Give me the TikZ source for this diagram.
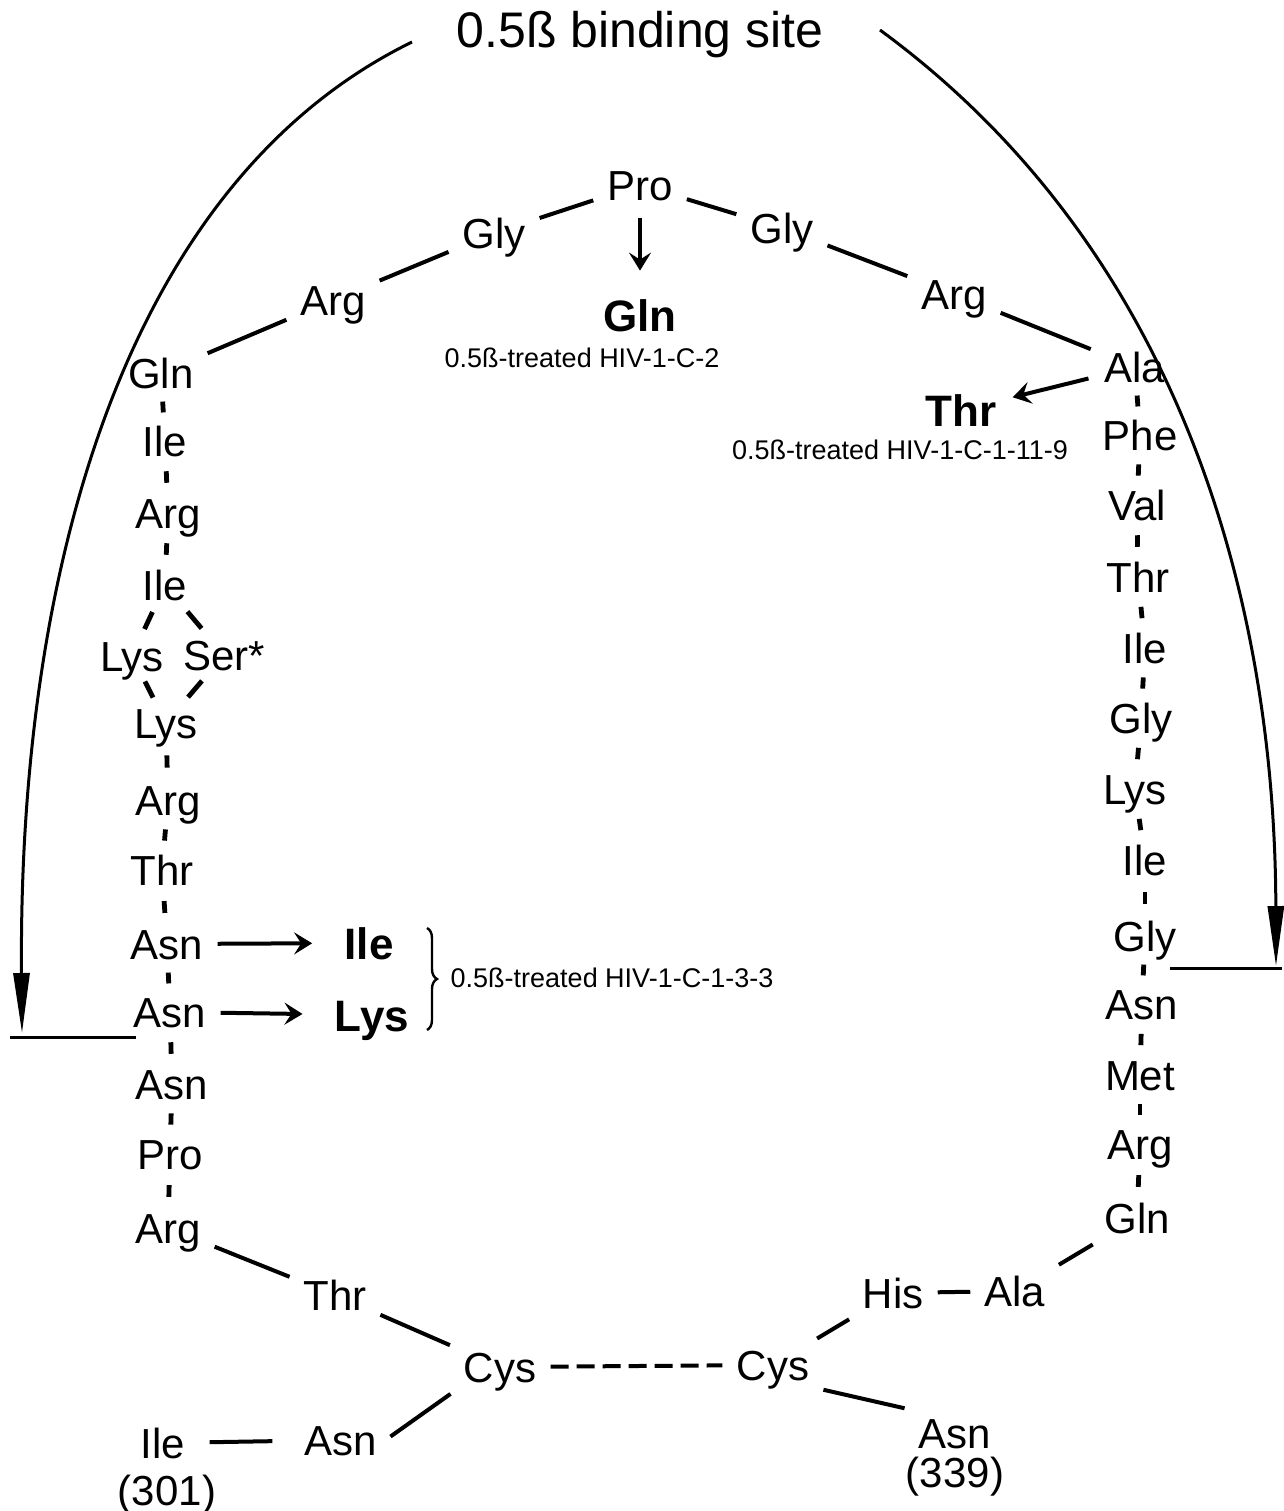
\documentclass[tikz,border=0pt]{standalone}
\usepackage{fontspec}
\setmainfont{Liberation Sans}
\usetikzlibrary{arrows.meta,calc,decorations.pathreplacing}

\begin{document}
\begin{tikzpicture}[x=0.5pt, y=-0.5pt,
  res/.style={font=\fontsize{21}{24}\selectfont, inner sep=4pt, text height=15pt, text depth=0pt},
  mut/.style={font=\fontsize{22}{26}\selectfont\bfseries, inner sep=4pt, text height=16pt, text depth=0pt},
  note/.style={font=\fontsize{13.5}{16}\selectfont, inner sep=1pt},
  bond/.style={line width=2pt, shorten <=3pt, shorten >=3pt},
  tick/.style={line width=2.4pt},
  swap/.style={line width=2pt, -{Stealth[length=9pt,width=11pt,inset=3.5pt]}},
  site/.style={line width=1.5pt, -{Triangle[length=30pt,width=8pt]}}]
  \useasboundingbox (0,0) rectangle (1284,1511);
  \node[font=\fontsize{25}{29}\selectfont] (title) at (640,35) {0.5ß binding site};
  % top loop
  \node[res] (pro) at (640,185) {Pro};
  \node[res] (lgly) at (494,233) {Gly};
  \node[res] (rgly) at (782,228) {Gly};
  \node[res] (larg) at (333,300) {Arg};
  \node[res] (rarg) at (954,294) {Arg};
  \node[mut] (mgln) at (640,315) {Gln};
  \node[note] (notea) at (582,358) {0.5ß-treated HIV-1-C-2};
  \node[mut] (mthr) at (961,410) {Thr};
  \node[note] (noteb) at (900,450) {0.5ß-treated HIV-1-C-1-11-9};
  % left strand
  \node[res] (l1) at (161,373) {Gln};
  \node[res] (l2) at (165,441) {Ile};
  \node[res] (l3) at (168,513) {Arg};
  \node[res] (l4) at (165,585) {Ile};
  \node[res] (llys) at (132,656) {Lys};
  \node[res] (lser) at (224,655) {Ser*};
  \node[res] (l5) at (166,723) {Lys};
  \node[res] (l6) at (168,800) {Arg};
  \node[res] (l7) at (162,870) {Thr};
  \node[res] (l8) at (167,944) {Asn};
  \node[res] (l9) at (170,1012) {Asn};
  \node[res] (l10) at (172,1084) {Asn};
  \node[res] (l11) at (170,1154) {Pro};
  \node[res] (l12) at (168,1228) {Arg};
  \node[mut] (mile) at (369,943) {Ile};
  \node[mut] (mlys) at (372,1015) {Lys};
  \node[note] (notec) at (612,978) {0.5ß-treated HIV-1-C-1-3-3};
  % right strand
  \node[res] (r1) at (1135,367) {Ala};
  \node[res] (r2) at (1140,435) {Phe};
  \node[res] (r3) at (1137,505) {Val};
  \node[res] (r4) at (1138,577) {Thr};
  \node[res] (r5) at (1145,648) {Ile};
  \node[res] (r6) at (1141,718) {Gly};
  \node[res] (r7) at (1135,789) {Lys};
  \node[res] (r8) at (1145,860) {Ile};
  \node[res] (r9) at (1145,936) {Gly};
  \node[res] (r10) at (1142,1004) {Asn};
  \node[res] (r11) at (1140,1075) {Met};
  \node[res] (r12) at (1140,1144) {Arg};
  \node[res] (r13) at (1137,1218) {Gln};
  % bottom
  \node[res] (bthr) at (335,1295) {Thr};
  \node[res] (lcys) at (500,1367) {Cys};
  \node[res] (rcys) at (773,1365) {Cys};
  \node[res] (bhis) at (893,1293) {His};
  \node[res] (bala) at (1015,1291) {Ala};
  \node[res] (lasn) at (341,1440) {Asn};
  \node[res] (bile) at (163,1443) {Ile};
  \node[res] (n301) at (167,1490) {(301)};
  \node[res] (rasn) at (955,1433) {Asn};
  \node[res] (n339) at (955,1472) {(339)};
  \coordinate (la) at (412,42);
  \coordinate (lb) at (22,1033);
  \coordinate (ra) at (880,30);
  \coordinate (rb) at (1276,966);
  \coordinate (lh) at (10,1037);
  \coordinate (lk) at (136,1037);
  \coordinate (rh) at (1170,968);
  \coordinate (rk) at (1282,968);
  \coordinate (bt) at (427,928);
  \coordinate (bb) at (427,1030);

  \draw[bond] (l1) -- (larg);
  \draw[bond] (larg) -- (lgly);
  \draw[bond] (lgly) -- (pro);
  \draw[bond] (pro) -- (rgly);
  \draw[bond] (rgly) -- (rarg);
  \draw[bond] (rarg) -- (r1);
  \draw[bond] (l12) -- (bthr);
  \draw[bond] (bthr) -- (lcys);
  \draw[bond, dash pattern=on 9pt off 4pt] (lcys) -- (rcys);
  \draw[bond] (rcys) -- (bhis);
  \draw[bond] (bhis) -- (bala);
  \draw[bond] (bala) -- (r13);
  \draw[bond] (rcys.south east) -- (rasn.north west);
  \draw[bond] (lasn.east) -- (lcys.south west);
  \draw[bond, shorten <=8pt, shorten >=12pt] (bile) -- (lasn);
  \foreach \a/\b in {l1/l2, l2/l3, l3/l4, l5/l6, l6/l7, l7/l8, l8/l9, l9/l10, l10/l11, l11/l12,
    r1/r2, r2/r3, r3/r4, r4/r5, r5/r6, r6/r7, r7/r8, r8/r9, r9/r10, r10/r11, r11/r12, r12/r13}
    \draw[tick] ($(\a)!.42!(\b)$) -- ($(\a)!.58!(\b)$);
  \foreach \a/\b in {l4/llys, l4/lser, llys/l5, lser/l5}
    \draw[tick] ($(\a)!.38!(\b)$) -- ($(\a)!.62!(\b)$);
  \draw[swap, shorten <=5pt, shorten >=10pt] (pro) -- (mgln);
  \draw[swap, shorten <=4pt, shorten >=4pt] (r1) -- (mthr);
  \draw[swap, shorten <=3pt, shorten >=12pt] (l8) -- (mile);
  \draw[swap, shorten <=3pt, shorten >=12pt] (l9) -- (mlys);
  \draw[line width=1.2pt, decorate, decoration={brace, amplitude=5pt}] (bt) -- (bb);
  \draw[site] (la) .. controls (130,180) and (18,560) .. (lb);
  \draw[site] (ra) .. controls (1180,250) and (1275,600) .. (rb);
  \draw[line width=1.5pt] (lh) -- (lk);
  \draw[line width=1.5pt] (rh) -- (rk);
\end{tikzpicture}
\end{document}
